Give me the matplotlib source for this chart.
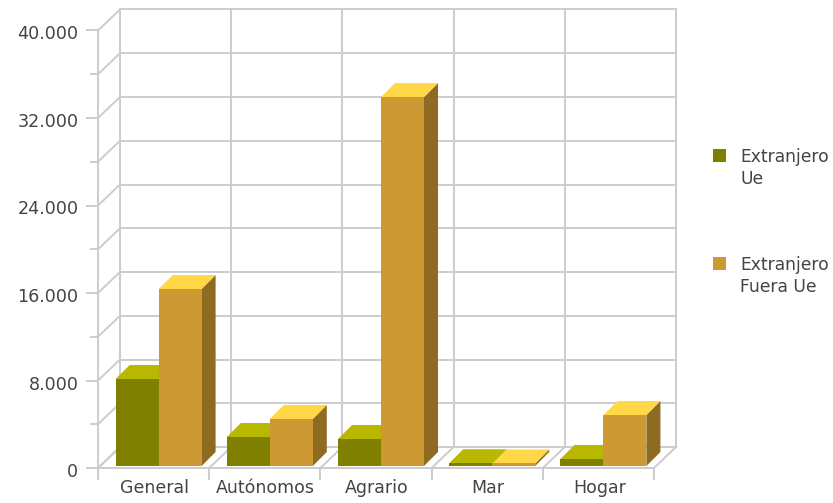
import matplotlib.pyplot as plt
from matplotlib.patches import Polygon, Rectangle
from matplotlib.transforms import ScaledTranslation

categories = ["General", "Autónomos", "Agrario", "Mar", "Hogar"]
extranjero_ue = [7950, 2650, 2470, 250, 640]
extranjero_fuera_ue = [16180, 4300, 33730, 230, 4660]
y_major = [0, 8000, 16000, 24000, 32000, 40000]
y_major_labels = ["0", "8.000", "16.000", "24.000", "32.000", "40.000"]
y_minor = [4000, 12000, 20000, 28000, 36000]

W, H = 833, 503
GRID = "#cccccc"
TEXT = "#444444"
LW = 1.4

plt.rcParams["font.family"] = "DejaVu Sans"
fig = plt.figure(figsize=(W / 100, H / 100), dpi=100)
ax = fig.add_axes([98 / W, 1 - 468 / H, 556 / W, 437.5 / H])
ax.set_xlim(0, 5)
ax.set_ylim(0, 40000)

# pixel sizes -> data units, for the fake 3d
px_x = 5 / 556
px_y = 40000 / 437.5
wall_dx, wall_dy = 22 * px_x, 21 * px_y
bar_dx, bar_dy = 14 * px_x, 14 * px_y
bar_w = 43 * px_x
shift_x, shift_y = 5 * px_x, 2 * px_y

for v in y_major + y_minor:
    ax.plot([0, wall_dx], [v, v + wall_dy], color=GRID, lw=LW, clip_on=False, zorder=1)
    ax.plot([wall_dx, 5 + wall_dx], [v + wall_dy, v + wall_dy], color=GRID, lw=LW, clip_on=False, zorder=1)
for i in range(6):
    ax.plot([i, i + wall_dx], [0, wall_dy], color=GRID, lw=LW, clip_on=False, zorder=1)
    ax.plot([i + wall_dx, i + wall_dx], [wall_dy, 40000 + wall_dy], color=GRID, lw=LW, clip_on=False, zorder=1)


def bar3d(x, v, front, top, side):
    x0 = x + shift_x
    y0 = shift_y
    y1 = v + shift_y
    x1 = x0 + bar_w
    ax.add_patch(Polygon([(x1, y0), (x1 + bar_dx, y0 + bar_dy), (x1 + bar_dx, y1 + bar_dy), (x1, y1)],
                         fc=side, lw=0, clip_on=False, zorder=3))
    ax.add_patch(Polygon([(x0, y1), (x1, y1), (x1 + bar_dx, y1 + bar_dy), (x0 + bar_dx, y1 + bar_dy)],
                         fc=top, lw=0, clip_on=False, zorder=3))
    ax.add_patch(Rectangle((x0, y0), bar_w, v, fc=front, lw=0, clip_on=False, zorder=3))


for i in range(len(categories)):
    center = i + 0.5
    bar3d(center - bar_w, extranjero_ue[i], "#808000", "#b8b800", "#5c5c00")
    bar3d(center, extranjero_fuera_ue[i], "#cc9933", "#ffd747", "#8f6b22")

for s in ["top", "right"]:
    ax.spines[s].set_visible(False)
for s in ["left", "bottom"]:
    ax.spines[s].set_color(GRID)
    ax.spines[s].set_linewidth(LW)
    ax.spines[s].set_zorder(2)
ax.patch.set_alpha(0)

ax.set_yticks(y_major)
ax.set_yticklabels(y_major_labels)
ax.set_yticks(y_minor, minor=True)
ax.tick_params(axis="y", which="major", length=8.6, width=LW, color=GRID, labelcolor=TEXT, labelsize=12.6, pad=5.5)
ax.tick_params(axis="y", which="minor", length=5.8, width=LW, color=GRID)
# labels sit a little under their ticks in the original
down = ScaledTranslation(0, -2 / 100, fig.dpi_scale_trans)
for label in ax.get_yticklabels():
    label.set_transform(label.get_transform() + down)

ax.set_xticks([i + 0.5 for i in range(5)])
ax.set_xticklabels(categories)
ax.set_xticks(range(6), minor=True)
ax.tick_params(axis="x", which="major", length=0, labelcolor=TEXT, labelsize=12.5, pad=8)
ax.tick_params(axis="x", which="minor", length=8.6, width=LW, color=GRID)
right = ScaledTranslation(1 / 100, 0, fig.dpi_scale_trans)
for label in ax.get_xticklabels():
    label.set_transform(label.get_transform() + right)

# legend
for y, col, label in [(149, "#808000", "Extranjero\nUe"), (257, "#cc9933", "Extranjero\nFuera Ue")]:
    fig.add_artist(Rectangle((713 / W, 1 - (y + 13) / H), 13 / W, 13 / H, fc=col, lw=0, transform=fig.transFigure))
    fig.text(740 / W, 1 - (y - 1) / H, label, color=TEXT, fontsize=12.3, va="top", ha="left", linespacing=1.3)

fig.savefig("out.png", dpi=100)
